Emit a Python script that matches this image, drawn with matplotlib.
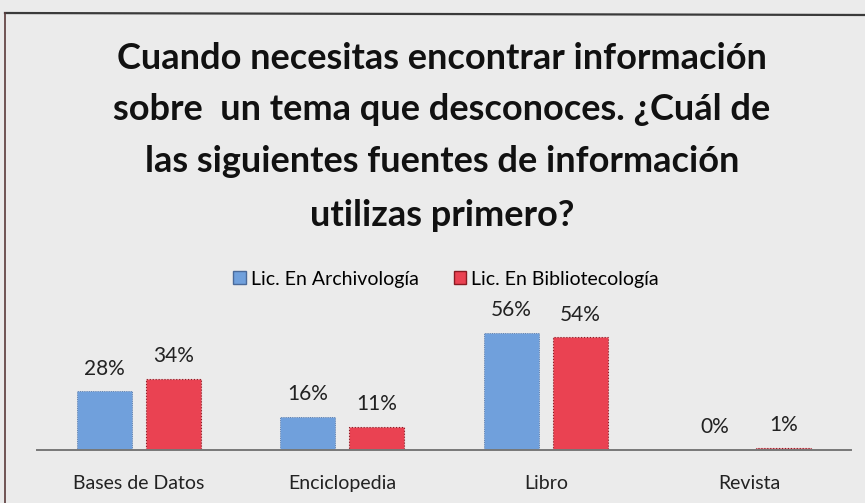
import matplotlib
matplotlib.use("Agg")
import matplotlib.pyplot as plt
from matplotlib.patches import Patch
from matplotlib.lines import Line2D
import numpy as np

categories = ["Bases de Datos", "Enciclopedia", "Libro", "Revista"]
archivologia = [28, 16, 56, 0]
bibliotecologia = [34, 11, 54, 1]
series_names = ["Lic. En Archivología", "Lic. En Bibliotecología"]
title_lines = ["Cuando necesitas encontrar información",
               "sobre  un tema que desconoces. ¿Cuál de",
               "las siguientes fuentes de información",
               "utilizas primero?"]

W, H = 865, 503
BG = "#ebebeb"
BLUE = "#70a0dc"
RED = "#ea4252"
FONT = "Lato"

fig = plt.figure(figsize=(W / 100, H / 100), dpi=100)
fig.patch.set_facecolor(BG)

# frame lines of the scanned chart
fig.add_artist(Line2D([5 / W, 1], [1 - 13 / H, 1 - 15 / H], color="#3a3a3a", lw=1.6))
fig.add_artist(Line2D([5 / W, 5 / W], [0, 1 - 13 / H], color="#5a3a3a", lw=1.2))

# axes: baseline at y=450px, x slots from 37 to 851 px
left, right = 37, 851
base = 450
ymax = 60
px_per = 2.09
ax_h = ymax * px_per
ax = fig.add_axes([left / W, (H - base) / H, (right - left) / W, ax_h / H])
ax.set_facecolor("none")

x = np.arange(len(categories))
bw = 0.27
gap = 0.034
b1 = ax.bar(x - bw / 2 - gap, archivologia, bw, color=BLUE, edgecolor="#4a6a9a", linewidth=0.6, linestyle=":")
b2 = ax.bar(x + bw / 2 + gap, bibliotecologia, bw, color=RED, edgecolor="#8a1a22", linewidth=0.8, linestyle=":")

for bars, vals in ((b1, archivologia), (b2, bibliotecologia)):
    for r, v in zip(bars, vals):
        ax.text(r.get_x() + r.get_width() / 2, v + 6, f"{v}%", ha="center", va="bottom",
                fontsize=15, family=FONT, color="#222222")

ax.set_xlim(-0.5, len(categories) - 0.5)
ax.set_ylim(0, ymax)
ax.set_yticks([])
ax.set_xticks(x)
ax.set_xticklabels(categories, fontsize=14, family=FONT, color="#222222")
ax.tick_params(axis="x", length=0, pad=18)
for s in ("top", "right", "left"):
    ax.spines[s].set_visible(False)
ax.spines["bottom"].set_color("#777777")
ax.spines["bottom"].set_linewidth(1.4)

baselines = [69, 120, 172, 226]
for line, yb in zip(title_lines, baselines):
    fig.text(442 / W, 1 - yb / H, line, ha="center", va="baseline", fontsize=26,
             fontweight="bold", family=FONT, color="#111111")

handles = [Patch(facecolor=BLUE, edgecolor="#4a6a9a"), Patch(facecolor=RED, edgecolor="#8a1a22")]
fig.legend(handles, series_names, loc="center", bbox_to_anchor=(446 / W, 1 - 279 / H), ncol=2,
           frameon=False, prop={"family": FONT, "size": 14}, handlelength=0.65, handleheight=0.65,
           handletextpad=0.25, columnspacing=1.8, borderpad=0)

fig.savefig("out.png", dpi=100, facecolor=BG)
